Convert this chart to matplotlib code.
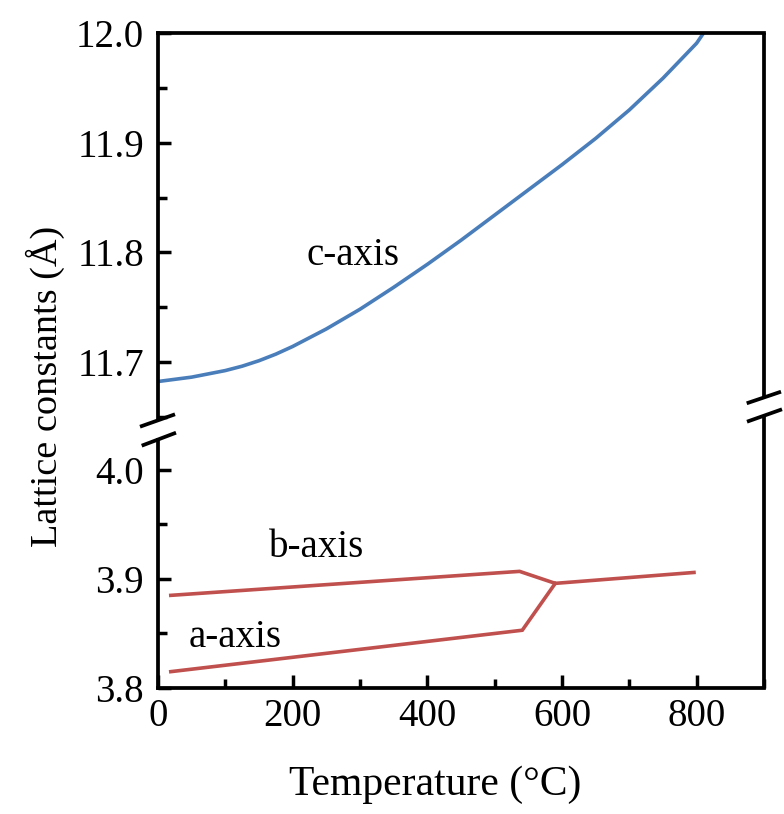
import matplotlib
matplotlib.use("Agg")
import matplotlib.pyplot as plt
from matplotlib.lines import Line2D
from matplotlib.ticker import MultipleLocator

plt.rcParams['font.family'] = ['Liberation Serif', 'DejaVu Serif']

# ---- data ----
c_T = [0, 50, 100, 125, 150, 175, 200, 225, 250, 300, 350, 400, 450, 500, 550, 600, 650, 700, 750, 800, 810]
c_v = [11.682, 11.686, 11.692, 11.696, 11.701, 11.707, 11.714, 11.722, 11.730, 11.748, 11.768, 11.789,
       11.811, 11.834, 11.857, 11.880, 11.904, 11.930, 11.959, 11.991, 12.0]
b_T = [19, 537, 590, 796]
b_v = [3.885, 3.907, 3.896, 3.906]
a_T = [19, 541, 590]
a_v = [3.815, 3.853, 3.896]
top_ticks = [11.7, 11.8, 11.9, 12.0]
bot_ticks = [3.8, 3.9, 4.0]
x_ticks = [0, 200, 400, 600, 800]

W, H = 784, 814
fig = plt.figure(figsize=(W / 100, H / 100), dpi=100)

def fx(x):
    return x / W

def fy(y):
    return 1 - y / H

L, R = 158, 764
ax_top = fig.add_axes([fx(L), fy(418), (R - L) / W, (418 - 33.3) / H])
ax_bot = fig.add_axes([fx(L), fy(688), (R - L) / W, (688 - 440) / H])

blue = '#4a7ebb'
red = '#c0504d'
lw_spine = 2.7
lw_data = 2.6

ax_top.plot(c_T, c_v, color=blue, lw=lw_data, solid_capstyle='butt')
ax_bot.plot(b_T, b_v, color=red, lw=lw_data, solid_joinstyle='miter')
ax_bot.plot(a_T, a_v, color=red, lw=lw_data, solid_joinstyle='miter')

ax_top.set_xlim(0, 900)
ax_bot.set_xlim(0, 900)
ax_top.set_ylim(12 - (418 - 33.3) / 1095, 12.0)
ax_bot.set_ylim(3.8, 3.8 + (688 - 440) / 1090)

for ax in (ax_top, ax_bot):
    ax.spines['right'].set_visible(False)
    for s in ax.spines.values():
        s.set_linewidth(lw_spine)
    ax.tick_params(axis='both', which='major', direction='in', length=9.5, width=2.5,
                   labelsize=28, pad=10)
    ax.tick_params(axis='both', which='minor', direction='in', length=6.5, width=2.5)
    ax.tick_params(axis='y', which='both', right=False)

ax_top.spines['bottom'].set_visible(False)
ax_bot.spines['top'].set_visible(False)

ax_top.set_yticks(top_ticks)
ax_top.set_yticklabels([f'{v:.1f}' for v in top_ticks])
ax_top.yaxis.set_minor_locator(MultipleLocator(0.05))
ax_top.tick_params(axis='x', which='both', bottom=False, top=False, labelbottom=False)

ax_bot.set_yticks(bot_ticks)
ax_bot.set_yticklabels([f'{v:.1f}' for v in bot_ticks])
ax_bot.yaxis.set_minor_locator(MultipleLocator(0.05))
ax_bot.set_xticks(x_ticks)
ax_bot.set_xticklabels([str(v) for v in x_ticks])
ax_bot.xaxis.set_minor_locator(MultipleLocator(100))
ax_bot.tick_params(axis='x', which='both', top=False)
ax_bot.tick_params(axis='x', which='major', pad=7)

# right spines (shifted) and break marks
lines = [
    ((R, 33.3), (R, 397)),
    ((R, 416), (R, 688)),
    ((140, 426.7), (175, 414.3)),
    ((141.7, 445.7), (176, 432.7)),
    ((746.7, 403.3), (781, 391.7)),
    ((747, 421.7), (782, 409.3)),
]
for (x0, y0), (x1, y1) in lines:
    fig.add_artist(Line2D([fx(x0), fx(x1)], [fy(y0), fy(y1)], color='black',
                          lw=lw_spine, transform=fig.transFigure, solid_capstyle='butt'))

# annotations
ax_top.text(289, 11.797, 'c-axis', fontsize=28, ha='center', va='center')
ax_bot.text(236, 3.929, 'b-axis', fontsize=28, ha='center', va='center')
ax_bot.text(114, 3.846, 'a-axis', fontsize=28, ha='center', va='center')

fig.text(fx(435), fy(785), 'Temperature (°C)', fontsize=30, ha='center', va='center')
fig.text(fx(45), fy(386), 'Lattice constants (Å)', fontsize=27.5, ha='center', va='center',
         rotation=90)

fig.savefig('out.png', dpi=100)
